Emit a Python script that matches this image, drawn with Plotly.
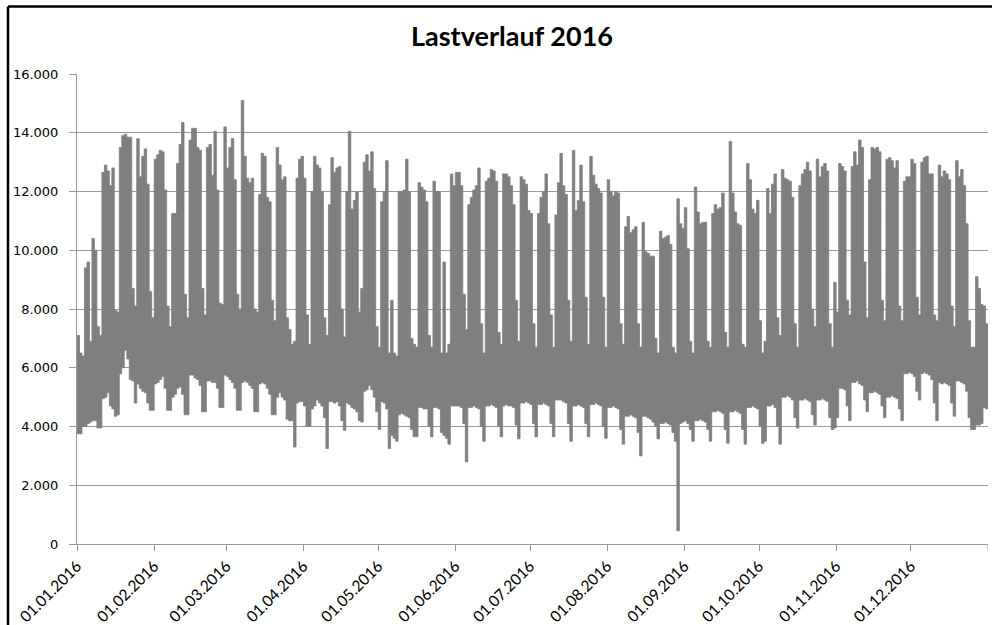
import numpy as np
import pandas as pd
import plotly.graph_objects as go

# ---------------- data ----------------
title_text = "Lastverlauf 2016"

# daily maximum load, per month
max_jan = [7100, 6500, 6400, 9400, 9600, 6900, 10400, 10000, 7400, 7100,
           12650, 12900, 12700, 12200, 12800, 7950, 7900, 13500, 13900, 13950,
           13850, 13850, 8700, 8100, 13800, 12500, 13200, 13450, 12250, 8600, 7700]
max_feb = [13100, 13250, 13400, 13350, 12050, 8100, 7400, 11250, 11250, 12950,
           13600, 14350, 8500, 7700, 13750, 14150, 14150, 13500, 13400, 8700,
           7800, 13500, 13600, 12550, 14050, 12050, 8200, 8150, 14200]
max_mar = [12800, 13500, 13800, 12400, 8500, 8000, 15100, 13200, 12450, 12300,
           12450, 8000, 7900, 11900, 13300, 13200, 11800, 11650, 8300, 7600,
           13500, 12900, 12400, 12500, 7700, 7300, 6800, 6900, 12450, 13100, 13200]
max_apr = [12450, 7800, 6800, 12000, 13200, 12900, 12800, 12000, 7700, 7100,
           11550, 13150, 12650, 12800, 12850, 8000, 7050, 12000, 14050, 11400,
           11700, 12000, 7900, 8700, 13000, 13250, 12700, 13350, 12100, 7400]
max_may = [6700, 11650, 12000, 13050, 6500, 8300, 6500, 6400, 12000, 12000,
           12050, 13100, 12000, 7000, 6800, 6700, 12300, 12150, 12050, 11650,
           7100, 6700, 12350, 12000, 12000, 6500, 9600, 6500, 6800, 12600, 12200]
max_jun = [12650, 12650, 12200, 8500, 7300, 11550, 11800, 12050, 12200, 12800,
           7500, 6500, 12350, 12450, 12750, 12700, 12350, 7200, 6800, 12600,
           12600, 12500, 12200, 11550, 8300, 6900, 12500, 12400, 12250, 11350]
max_jul = [11250, 7500, 6700, 11250, 11800, 12000, 12600, 10900, 7800, 6700,
           11200, 12300, 13300, 12200, 11900, 8300, 6900, 13400, 11350, 11700,
           12900, 11650, 8400, 6800, 13200, 12550, 12250, 12100, 11950, 8400, 6700]
max_aug = [12400, 12000, 11850, 12000, 11950, 7500, 6800, 10800, 11150, 10600,
           10700, 10800, 7500, 6700, 10950, 9950, 9900, 9800, 9800, 7000,
           6500, 10650, 10400, 10450, 10500, 10200, 6700, 6500, 11750, 10900, 10750]
max_sep = [11450, 10050, 6900, 6500, 12150, 11300, 10900, 10950, 10950, 6900,
           6700, 11250, 11550, 11400, 11450, 11950, 7200, 6700, 13700, 11950,
           11300, 10900, 10850, 6800, 6700, 12950, 12400, 11400, 11250, 11700]
max_oct = [7600, 6500, 6900, 12100, 11250, 12250, 12600, 7700, 7100, 12750,
           12450, 12400, 12350, 11800, 7500, 6700, 12200, 12600, 12750, 13000,
           12700, 8000, 7400, 13100, 12500, 12850, 12950, 12700, 7500, 6700, 8900]
max_nov = [7900, 12950, 12850, 12700, 8300, 7800, 12850, 13350, 12900, 13750,
           13500, 9600, 7700, 12400, 13500, 13450, 13500, 13350, 8300, 7600,
           13100, 13150, 13050, 12800, 13050, 8100, 7600, 12350, 12500, 12500]
max_dec = [13100, 12950, 8400, 7800, 13000, 13150, 13200, 12600, 12600, 7800,
           7600, 12900, 12500, 12700, 12600, 12400, 8100, 7400, 13050, 12500,
           12750, 12200, 10900, 7600, 6700, 6700, 9100, 8700, 8150, 8100, 7500]

# daily minimum load, per month
min_jan = [3750, 3750, 4000, 4000, 4100, 4150, 4200, 4200, 3950, 3950,
           4950, 5000, 5150, 4700, 4600, 4350, 4400, 5800, 6000, 6600,
           6300, 5600, 5550, 4800, 5450, 5300, 5200, 5150, 4800, 4550, 4550]
min_feb = [5450, 5500, 5600, 5700, 5300, 4550, 4550, 5000, 5100, 5300,
           5350, 5100, 4400, 4400, 5750, 5750, 5650, 5600, 5400, 4500,
           4500, 5550, 5550, 5500, 5500, 5300, 4650, 4650, 5750]
min_mar = [5700, 5600, 5500, 5300, 4550, 4550, 5500, 5550, 5500, 5400,
           5300, 4500, 4500, 5450, 5500, 5450, 5300, 5100, 4400, 4400,
           5000, 5150, 5000, 4900, 4250, 4200, 4200, 3300, 4800, 4850, 4850]
min_apr = [4700, 4000, 4000, 4600, 4700, 4900, 4800, 4700, 4300, 3250,
           4850, 4850, 4800, 4850, 4700, 4200, 3870, 4800, 4750, 4650,
           4600, 4500, 4200, 4150, 5200, 5250, 5400, 5250, 5000, 4500]
min_may = [3900, 4850, 4800, 4600, 3250, 3700, 3600, 3500, 4400, 4450,
           4400, 4350, 4300, 3900, 3650, 3650, 4650, 4650, 4600, 4600,
           4000, 3650, 4650, 4650, 4600, 3800, 3700, 3600, 3400, 4700, 4700]
min_jun = [4700, 4700, 4650, 4100, 2800, 4650, 4650, 4700, 4650, 4600,
           4000, 3500, 4700, 4700, 4750, 4700, 4650, 4000, 3650, 4700,
           4750, 4700, 4700, 4650, 4050, 3580, 4800, 4800, 4850, 4800]
min_jul = [4750, 4100, 3650, 4750, 4750, 4800, 4750, 4700, 4100, 3650,
           4900, 4900, 4900, 4850, 4800, 4100, 3500, 4700, 4700, 4750,
           4700, 4650, 4100, 3650, 4750, 4750, 4800, 4750, 4700, 4000, 3600]
min_aug = [4650, 4650, 4700, 4650, 4600, 3900, 3400, 4350, 4350, 4400,
           4350, 4300, 3800, 3000, 4350, 4350, 4300, 4250, 4150, 4000,
           3580, 4100, 4100, 4150, 4100, 4050, 3800, 3500, 450, 4100, 4150]
min_sep = [4200, 4100, 3900, 3500, 4200, 4200, 4250, 4200, 4150, 3900,
           3500, 4500, 4500, 4550, 4500, 4450, 3900, 3430, 4500, 4500,
           4550, 4500, 4450, 3900, 3400, 4650, 4650, 4700, 4650, 4600]
min_oct = [4000, 3430, 3500, 4700, 4700, 4750, 4650, 4000, 3400, 5000,
           5000, 5050, 5000, 4900, 4300, 3950, 4900, 4900, 4950, 4900,
           4850, 4400, 4050, 4900, 4900, 4950, 4900, 4850, 4300, 3900, 3950]
min_nov = [4300, 5300, 5300, 5250, 4700, 4200, 5500, 5500, 5550, 5450,
           5400, 4900, 4500, 5150, 5150, 5200, 5150, 5100, 4700, 4300,
           5000, 5000, 5050, 5000, 4950, 4600, 4200, 5800, 5800, 5850]
min_dec = [5800, 5700, 5200, 4900, 5800, 5850, 5800, 5750, 5600, 4800,
           4200, 5500, 5450, 5500, 5450, 5400, 4800, 4350, 5550, 5550,
           5500, 5450, 5200, 4300, 3900, 3900, 4050, 4050, 4100, 4650, 4600]

tick_dates = ["2016-01-01", "2016-02-01", "2016-03-01", "2016-04-01",
              "2016-05-01", "2016-06-01", "2016-07-01", "2016-08-01",
              "2016-09-01", "2016-10-01", "2016-11-01", "2016-12-01"]
tick_labels = ["01.01.2016", "01.02.2016", "01.03.2016", "01.04.2016",
               "01.05.2016", "01.06.2016", "01.07.2016", "01.08.2016",
               "01.09.2016", "01.10.2016", "01.11.2016", "01.12.2016"]

# ---------------- build ----------------
daily_max = np.array(max_jan + max_feb + max_mar + max_apr + max_may + max_jun +
                     max_jul + max_aug + max_sep + max_oct + max_nov + max_dec, dtype=float)
daily_min = np.array(min_jan + min_feb + min_mar + min_apr + min_may + min_jun +
                     min_jul + min_aug + min_sep + min_oct + min_nov + min_dec, dtype=float)
# step edges: each day's value holds until the next day starts
edges = pd.date_range("2016-01-01", periods=len(daily_max) + 1, freq="D")
step_max = np.append(daily_max, daily_max[-1])
step_min = np.append(daily_min, daily_min[-1])

GRAY = "#7f7f7f"
AXIS = "#9a9a9a"
FONT = "Lato, 'Open Sans', sans-serif"
YFONT = "'DejaVu Sans', Verdana, sans-serif"

fig = go.Figure()
fig.add_trace(go.Scatter(
    x=edges, y=step_min, mode="lines", line=dict(color=GRAY, width=0.8, shape="hv"),
    showlegend=False, hoverinfo="skip",
))
fig.add_trace(go.Scatter(
    x=edges, y=step_max, mode="lines", line=dict(color=GRAY, width=0.8, shape="hv"),
    fill="tonexty", fillcolor=GRAY,
    showlegend=False, hoverinfo="skip",
))

fig.update_layout(
    width=992, height=625,
    paper_bgcolor="white", plot_bgcolor="white",
    margin=dict(l=77, r=4, t=74, b=81, autoexpand=False),
    separators=",.",
    title=dict(text="<b>" + title_text + "</b>", x=512 / 992, xref="container",
               xanchor="center", y=1 - 37 / 625, yref="container", yanchor="middle",
               font=dict(family=FONT, size=27, color="#000000")),
    font=dict(family=FONT, size=14, color="#000000"),
    shapes=[
        # outer chart frame (left and top visible)
        dict(type="line", xref="paper", yref="paper",
             x0=(8 - 77) / 911, x1=(8 - 77) / 911, y0=-0.3, y1=(544 - 6.5) / 470,
             line=dict(color="black", width=2.5)),
        dict(type="line", xref="paper", yref="paper",
             x0=(8 - 77) / 911, x1=1.1, y0=(544 - 6.5) / 470, y1=(544 - 6.5) / 470,
             line=dict(color="black", width=2.5)),
        # end tick on the date axis
        dict(type="line", xref="x", yref="paper", x0="2017-01-01", x1="2017-01-01",
             y0=0, y1=-6 / 470, line=dict(color=AXIS, width=1)),
    ],
)

fig.update_xaxes(
    type="date", range=["2016-01-01", "2017-01-01"], automargin=False,
    tickvals=tick_dates, ticktext=tick_labels, tickangle=-45,
    ticks="outside", ticklen=6, tickcolor=AXIS,
    showline=True, linecolor=AXIS, linewidth=1,
    showgrid=False, zeroline=False,
    tickfont=dict(family=FONT, size=15.5, color="#000000"),
)
fig.update_yaxes(
    range=[0, 16000], dtick=2000, tick0=0, tickformat=",d", automargin=False,
    ticks="outside", ticklen=7, tickcolor=AXIS,
    showline=True, linecolor=AXIS, linewidth=1,
    showgrid=True, gridcolor=AXIS, gridwidth=1, zeroline=False,
    tickfont=dict(family=YFONT, size=13, color="#000000"),
    ticklabelstandoff=8,
)

fig.write_html("out.html", config={"displayModeBar": False},
               post_script="document.body.style.margin='0px';")
